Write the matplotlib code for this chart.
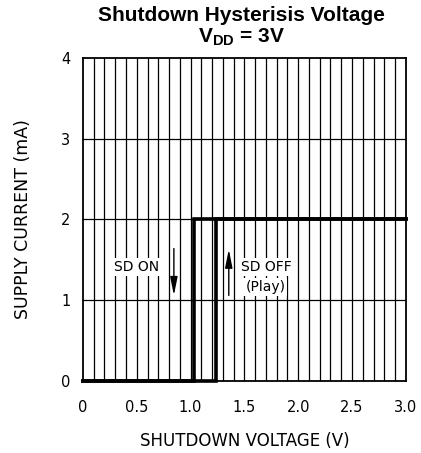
import numpy as np
import matplotlib
matplotlib.use('Agg')
import matplotlib.pyplot as plt

# data
v_on = [0.0, 1.24, 1.24, 3.0]      # rising sweep (SD OFF -> play)
i_on = [0.0, 0.0, 2.0, 2.0]
v_off = [3.0, 1.03, 1.03, 0.0]     # falling sweep (SD ON)
i_off = [2.0, 2.0, 0.0, 0.0]
xticks = [0, 0.5, 1.0, 1.5, 2.0, 2.5, 3.0]
xticklabels = ['0', '0.5', '1.0', '1.5', '2.0', '2.5', '3.0']
yticks = [0, 1, 2, 3, 4]

plt.rcParams['mathtext.fontset'] = 'custom'
plt.rcParams['mathtext.rm'] = 'Liberation Sans:bold'
plt.rcParams['mathtext.it'] = 'Liberation Sans:bold'
plt.rcParams['mathtext.bf'] = 'Liberation Sans:bold'

fig = plt.figure(figsize=(4.21, 4.53), dpi=100)
ax = fig.add_axes([0.197, 0.159, 0.767, 0.713])

# grid: every 0.1 V vertically, every 1 mA horizontally
for x in np.arange(0.1, 3.0, 0.1):
    ax.axvline(x, color='black', lw=0.9, zorder=1)
for y in yticks[1:-1]:
    ax.axhline(y, color='black', lw=0.9, zorder=1)

ax.plot(v_on, i_on, color='black', lw=2.6, solid_joinstyle='miter', zorder=3, clip_on=False)
ax.plot(v_off, i_off, color='black', lw=2.6, solid_joinstyle='miter', zorder=3, clip_on=False)

ax.set_xlim(0, 3.0)
ax.set_ylim(0, 4)
ax.set_xticks(xticks)
ax.set_xticklabels(xticklabels)
ax.set_yticks(yticks)
ax.tick_params(length=0, labelsize=10.5)
ax.tick_params(axis='y', pad=9)
ax.tick_params(axis='x', pad=14)
for s in ax.spines.values():
    s.set_linewidth(1.3)

ax.set_xlabel('SHUTDOWN VOLTAGE (V)', fontsize=12, labelpad=12)
ax.set_ylabel('SUPPLY CURRENT (mA)', fontsize=12.5, labelpad=21)

fig.text(0.573, 0.966, 'Shutdown Hysterisis Voltage', ha='center', va='center',
         fontsize=15, fontweight='bold', family='Liberation Sans')
fig.text(0.573, 0.917, r'$\mathrm{V_{DD}}$ = 3V', ha='center', va='center',
         fontsize=15, fontweight='bold', family='Liberation Sans')

box = dict(facecolor='white', edgecolor='none', pad=1.5)
ax.text(0.50, 1.41, 'SD ON', ha='center', va='center', fontsize=10, bbox=box, zorder=4)
ax.text(1.70, 1.41, 'SD OFF', ha='center', va='center', fontsize=10, bbox=box, zorder=4)
ax.text(1.695, 1.16, '(Play)', ha='center', va='center', fontsize=10, bbox=box, zorder=4)

arrow = dict(arrowstyle='-|>,head_length=1.1,head_width=0.22', color='black', lw=1.0,
             mutation_scale=10, shrinkA=0, shrinkB=0)
ax.annotate('', xy=(0.845, 1.06), xytext=(0.845, 1.64), arrowprops=arrow, zorder=4)
ax.annotate('', xy=(1.355, 1.63), xytext=(1.355, 1.06), arrowprops=arrow, zorder=4)

fig.savefig('out.png', dpi=100)
